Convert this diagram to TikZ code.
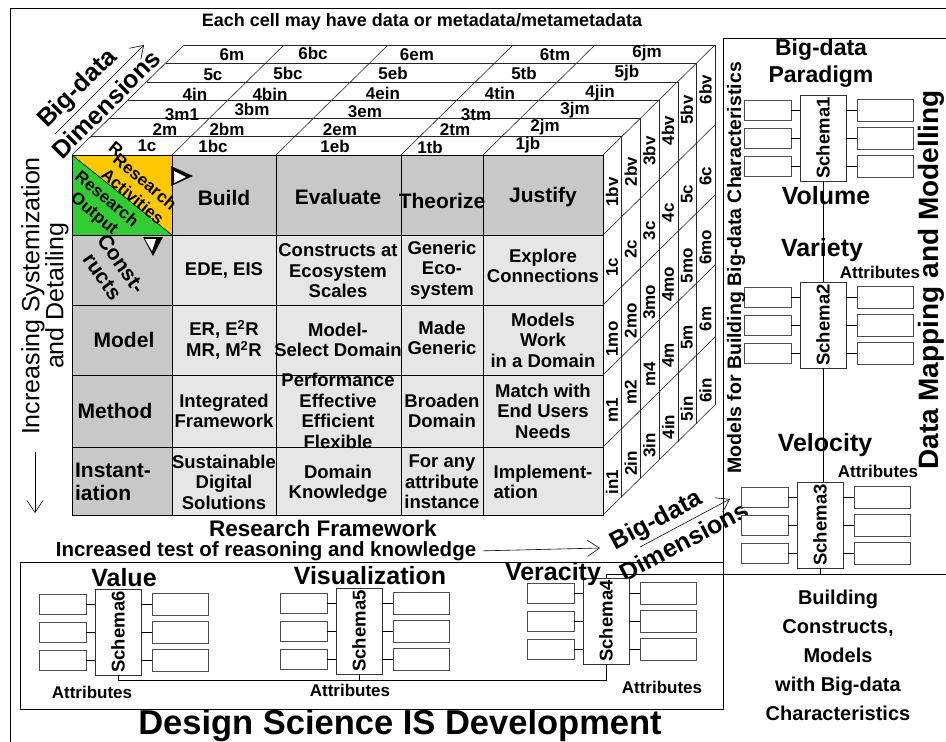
\documentclass[tikz,border=0pt]{standalone}
\usepackage{fontspec}
\setmainfont{Liberation Sans}
\usetikzlibrary{arrows.meta}
\definecolor{hdrgray}{RGB}{200,200,200}
\definecolor{cellgray}{RGB}{230,230,230}
\definecolor{actyellow}{RGB}{255,200,0}
\definecolor{outgreen}{RGB}{51,204,51}
\newcommand{\setsz}[2]{\fontsize{#1}{#2}\selectfont\bfseries}
\begin{document}
\begin{tikzpicture}[x=1pt,y=-1pt,line width=.8pt,
  cube/.style={draw=black!85,line width=.6pt},
  lbl/.style={inner sep=0pt,align=center},
  hdr/.style={lbl,font=\setsz{21}{23}},
  celltext/.style={lbl,font=\setsz{18.5}{20.5}},
  toplab/.style={lbl,font=\setsz{17}{17}},
  sidelab/.style={lbl,font=\setsz{17}{17},rotate=90},
  bigname/.style={lbl,font=\setsz{25}{28}},
  attrlab/.style={lbl,font=\setsz{17}{17}},
  schema/.style={draw=black!80,fill=white,minimum width=46,minimum height=86,inner sep=0pt,font=\setsz{18.5}{18.5}},
  attbox/.style={draw=black!70,fill=white,inner sep=0pt},
  openarrow/.style={-{Straight Barb[length=12pt,width=16pt]},line width=.6pt}]
\useasboundingbox (0,0) rectangle (946,742);
% frames
\draw (946,8) -- (10,8) -- (10,742);
\draw (946,38) -- (723,38) -- (723,574) -- (946,574);
\draw (20,562) rectangle (723,709);
\node[lbl,font=\setsz{18}{18}] (title) at (422,22) {Each cell may have data or metadata/metametadata};

% front face
\fill[hdrgray] (172,155) rectangle (603,235);
\fill[hdrgray] (72,235) rectangle (172,515);
\fill[cellgray] (172,235) rectangle (603,515);
\fill[actyellow] (72,155) -- (172,155) -- (172,235) -- cycle;
\fill[outgreen] (72,155) -- (72,235) -- (172,235) -- cycle;
\draw[line width=.6pt] (72,155) -- (172,235);
\foreach \cx in {172,276,401,483} \draw (\cx,155) -- (\cx,515);
\foreach \ry in {235,305,375,447} \draw (72,\ry) -- (603,\ry);
\draw (72,155) rectangle (603,515);

% top face
\foreach \k in {1,...,6} \draw[cube] ({72+18.7*\k},{155-18.3*\k}) -- ({603+18.7*\k},{155-18.3*\k});
\foreach \cx in {72,172,276,401,483,603} \draw[cube] (\cx,155) -- ++(112,-110);
\foreach \lab/\px/\py in {1c/147/146,1bc/213/146,1eb/335/146,1tb/430/147,1jb/528/145,
    2m/165/130,2bm/227/129,2em/340/130,2tm/455/130,2jm/545/127,
    3m1/182/115,3bm/252/109,3em/365/112,3tm/476/115,3jm/575/110,
    4in/195/94,4bin/270/94,4ein/383/93,4tin/500/93,4jin/600/93,
    5c/213/75,5bc/288/73,5eb/393/73,5tb/524/73,5jb/627/73,
    6m/232/55,6bc/313/53,6em/417/55,6tm/555/55,6jm/647/53}
  \node[toplab] (top-\lab) at (\px,\py) {\lab};

% right face
\foreach \k in {1,...,6} \draw[cube] ({603+18.7*\k},{155-18.3*\k}) -- ({603+18.7*\k},{515-18.3*\k});
\foreach \ry in {235,305,375,447,515} \draw[cube] (603,\ry) -- ++(112,-110);
\foreach \lab [count=\i from 0] in {1bv,1c,1mo,m1,in1,2bv,2c,2mo,m2,2in,3bv,3c,3mo,m4,3in,
    4bv,4c,4mo,4m,4in,5bv,5c,5mo,5m,5in,6bv,6c,6mo,6m,6in}{
  \pgfmathsetmacro\kk{int(\i/5)}
  \pgfmathsetmacro\rr{mod(\i,5)}
  \pgfmathsetmacro\yy{\rr==0 ? 192-20.5*\kk : 196+71.5*\rr-18.3*\kk}
  \node[sidelab] (side-\lab) at ({612+18.7*\kk},\yy) {\lab};
}

% corner cell
\node[lbl,font=\setsz{17}{19},rotate=-40] (stray) at (116,149) {R};
\node[lbl,font=\setsz{17}{19},rotate=-40] (activities) at (139,189) {Research\\Activities};
\node[lbl,font=\setsz{17}{19},rotate=-40] (output) at (100,207) {Research\\Output};
\fill (171,166) -- (193,176) -- (171,186) -- cycle;
\fill[white] (174,171) -- (186,177) -- (174,183) -- cycle;
\fill (143,237) -- (163,237) -- (153,256) -- cycle;
\fill[white] (145,239) -- (156,239) -- (152,251) -- cycle;

% headers
\node[hdr] (build) at (224,198) {Build};
\node[hdr] (evaluate) at (338,197) {Evaluate};
\node[hdr] (theorize) at (442,201) {Theorize};
\node[hdr] (justify) at (543,197) {Justify};
\node[hdr,rotate=-55] (constructs) at (112,270) {Const-\\ructs};
\node[hdr] (model) at (124,340) {Model};
\node[hdr] (method) at (115,411) {Method};
\node[hdr,align=left] (instantiation) at (113,482) {Instant-\\iation};

% cells
\node[celltext] (c11) at (224,270) {EDE, EIS};
\node[celltext] (c12) at (338,271) {Constructs at\\Ecosystem\\Scales};
\node[celltext] (c13) at (442,270) {Generic\\Eco-\\system};
\node[celltext] (c14) at (543,266) {Explore\\Connections};
\node[celltext] (c21) at (224,340) {ER, E\textsuperscript{2}R\\MR, M\textsuperscript{2}R};
\node[celltext] (c22) at (338,340) {Model-\\Select Domain};
\node[celltext] (c23) at (442,338) {Made\\Generic};
\node[celltext] (c24) at (543,340) {Models\\Work\\in a Domain};
\node[celltext] (c31) at (224,411) {Integrated\\Framework};
\node[celltext] (c32) at (338,411) {Performance\\Effective\\Efficient\\Flexible};
\node[celltext] (c33) at (442,411) {Broaden\\Domain};
\node[celltext] (c34) at (543,411) {Match with\\End Users\\Needs};
\node[celltext] (c41) at (224,482) {Sustainable\\Digital\\Solutions};
\node[celltext] (c42) at (338,484) {Domain\\Knowledge};
\node[celltext] (c43) at (442,482) {For any\\attribute\\instance};
\node[celltext,align=left] (c44) at (543,482) {Implement-\\ation};

% axes
\node[bigname,rotate=45] (bigTop) at (78,89) {Big-data};
\node[bigname,rotate=45] (dimTop) at (106,104) {Dimensions};
\coordinate (dimTopS) at (55,134);
\coordinate (dimTopE) at (144,45);
\draw[openarrow] (dimTopS) -- (dimTopE);
\node[bigname,rotate=28] (bigBot) at (657,521) {Big-data};
\node[bigname,rotate=28] (dimBot) at (684,541) {Dimensions};
\coordinate (dimBotS) at (640,547);
\coordinate (dimBotE) at (730,499);
\draw[openarrow] (dimBotS) -- (dimBotE);
\node[lbl,font=\fontsize{25}{24}\selectfont,rotate=90] (systLab) at (45,296) {Increasing Systemization\\and Detailing};
\coordinate (systS) at (35,452);
\coordinate (systE) at (35,513);
\draw[openarrow] (systS) -- (systE);
\node[lbl,font=\setsz{22.5}{22.5}] (framework) at (323,528) {Research Framework};
\node[lbl,font=\setsz{20.5}{20.5}] (reasoning) at (266,551) {Increased test of reasoning and knowledge};
\coordinate (reasonE) at (600,548);
\draw[openarrow,shorten <=6pt] (reasoning.east) -- (reasonE);

% schemas
\foreach \n/\sx/\sy in {1/823/138,2/823/325,3/820/525,4/606/621,5/359/631,6/118/632}{
  \node[schema] (s\n) at (\sx,\sy) {\rotatebox{90}{Schema\n}};
  \foreach \j/\dy in {1/-28,2/0,3/28}{
    \node[attbox,minimum width=47,minimum height=20] (s\n-l\j) at (\sx-55.5,\sy+\dy) {};
    \node[attbox,minimum width=56,minimum height=22] (s\n-r\j) at (\sx+62,\sy+\dy) {};
    \draw (s\n-l\j.east) -- (s\n-l\j.east -| s\n.west);
    \draw (s\n-r\j.west) -- (s\n-r\j.west -| s\n.east);
  }
}
\draw (s1.south) -- (s1.south |- s2.north);
\draw (s2.south) -- (s2.south |- s3.north);
\draw (s3.south) -- ++(0,6) -| (s4.north);
\coordinate (bus) at (0,680);
\draw (s6.south) |- (bus -| s4.south) -- (s4.south);
\draw (s5.south) -- (s5.south |- bus);

% panel texts
\node[lbl,font=\setsz{23}{27}] (paradigm) at (821,63) {Big-data\\Paradigm};
\node[bigname] (volume) at (826,196) {Volume};
\node[bigname] (variety) at (822,250) {Variety};
\node[bigname] (velocity) at (825,445) {Velocity};
\node[attrlab] (attr2) at (880,272) {Attributes};
\node[attrlab] (attr3) at (878,471) {Attributes};
\node[lbl,font=\setsz{19.5}{19.5},rotate=90] (modelsLab) at (736,268) {Models for Building Big-data Characteristics};
\node[lbl,font=\setsz{28}{28},rotate=90] (mappingLab) at (931,280) {Data Mapping and Modelling};
\node[bigname] (value) at (124,578) {Value};
\node[bigname] (visual) at (370,576) {Visualization};
\node[bigname] (veracity) at (553,574) {Veracity};
\node[attrlab] (attr6) at (92,692) {Attributes};
\node[attrlab] (attr5) at (350,690) {Attributes};
\node[attrlab] (attr4) at (662,687) {Attributes};
\node[lbl,font=\setsz{20}{29}] (building) at (838,655) {Building\\Constructs,\\Models\\with Big-data\\Characteristics};
\node[lbl,font=\setsz{34.5}{34.5}] (dsis) at (400,726) {Design Science IS Development};
\end{tikzpicture}
\end{document}
